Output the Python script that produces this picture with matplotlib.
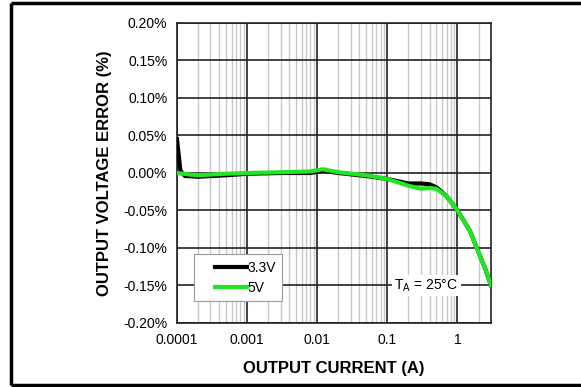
import numpy as np
import matplotlib.pyplot as plt
from matplotlib.lines import Line2D
from matplotlib.ticker import FixedLocator, LogLocator, NullFormatter

plt.rcParams['font.family'] = ['Liberation Sans', 'DejaVu Sans']

# output current (A) and output voltage error (%)
current_33 = [1e-4, 1.12e-4, 1.3e-4, 2e-4, 5e-4, 1e-3, 3e-3, 8e-3, 0.012, 0.02,
              0.05, 0.1, 0.2, 0.3, 0.4, 0.5, 0.7, 1.0, 1.5, 2.0, 2.5, 3.0]
error_33 = [0.045, 0.003, -0.004, -0.005, -0.003, -0.001, 0.0, 0.0, 0.003, 0.0,
            -0.004, -0.008, -0.014, -0.014, -0.015, -0.019, -0.031, -0.05,
            -0.077, -0.106, -0.128, -0.15]

current_5 = [1e-4, 1.5e-4, 2e-4, 5e-4, 1e-3, 3e-3, 8e-3, 0.012, 0.02,
             0.05, 0.1, 0.2, 0.3, 0.4, 0.5, 0.7, 1.0, 1.5, 2.0, 2.5, 3.0]
error_5 = [0.0, -0.002, -0.003, -0.001, 0.0, 0.001, 0.002, 0.005, 0.001,
           -0.003, -0.008, -0.017, -0.021, -0.02, -0.021, -0.031, -0.05,
           -0.077, -0.106, -0.128, -0.15]

xticks = [1e-4, 1e-3, 1e-2, 1e-1, 1]
xticklabels = ['0.0001', '0.001', '0.01', '0.1', '1']
yticks = [-0.20, -0.15, -0.10, -0.05, 0.0, 0.05, 0.10, 0.15, 0.20]

fig = plt.figure(figsize=(5.81, 3.87), dpi=100)
ax = fig.add_axes([0.3046, 0.1654, 0.5404, 0.7752])

ax.plot(current_33, error_33, color='black', lw=3, label='3.3V', zorder=3)
ax.plot(current_5, error_5, color='#22e622', lw=3, label='5V', zorder=4)

ax.set_xscale('log')
ax.set_xlim(1e-4, 3)
ax.set_ylim(-0.2, 0.2)

ax.xaxis.set_major_locator(FixedLocator(xticks))
ax.set_xticklabels(xticklabels)
ax.xaxis.set_minor_locator(LogLocator(base=10, subs=range(2, 10), numticks=20))
ax.xaxis.set_minor_formatter(NullFormatter())
ax.set_yticks(yticks)
ax.set_yticklabels(['%.2f%%' % v for v in yticks])

ax.grid(which='major', color='#222222', lw=1.2)
ax.grid(which='minor', axis='x', color='#c8c8c8', lw=1)
ax.tick_params(which='both', length=0, labelsize=10)
ax.tick_params(axis='x', pad=7)
ax.tick_params(axis='y', pad=7)
for s in ax.spines.values():
    s.set_color('#222222')
    s.set_linewidth(1.2)

ax.set_xlabel('OUTPUT CURRENT (A)', fontsize=12, fontweight='bold', labelpad=10)
ax.set_ylabel('OUTPUT VOLTAGE ERROR (%)', fontsize=12, fontweight='bold', labelpad=8)

leg = ax.legend(loc='lower left', bbox_to_anchor=(0.054, 0.073), fontsize=10,
                handlelength=3.4, handletextpad=0.0, borderpad=0.45,
                labelspacing=0.45, fancybox=False, framealpha=1,
                edgecolor='#999999', borderaxespad=0)
leg.get_frame().set_linewidth(0.8)
# inset the legend swatches so they sit against their labels
for ln in leg.get_lines():
    xd = np.asarray(ln.get_xdata(), dtype=float)
    yd = np.asarray(ln.get_ydata(), dtype=float)
    ln.set_data([xd.min() + 11, xd.max()], [yd[0], yd[0]])

ax.text(0.36, -0.15, r'T$_\mathregular{A}$ = 25°C', fontsize=10, ha='center',
        va='center', zorder=5,
        bbox=dict(facecolor='white', edgecolor='none', pad=2))

# page frame: left, top and bottom edges, running off the right side
x_left, y_top, y_bot = 11 / 581, 1 - 3 / 387, 2 / 387
for xs, ys in [([x_left, x_left], [y_bot, y_top]),
               ([x_left, 1.1], [y_top, y_top]),
               ([x_left, 1.1], [y_bot, y_bot])]:
    fig.add_artist(Line2D(xs, ys, transform=fig.transFigure,
                          color='black', lw=2.5, solid_capstyle='butt'))

fig.savefig('out.png', dpi=100, facecolor='white')
